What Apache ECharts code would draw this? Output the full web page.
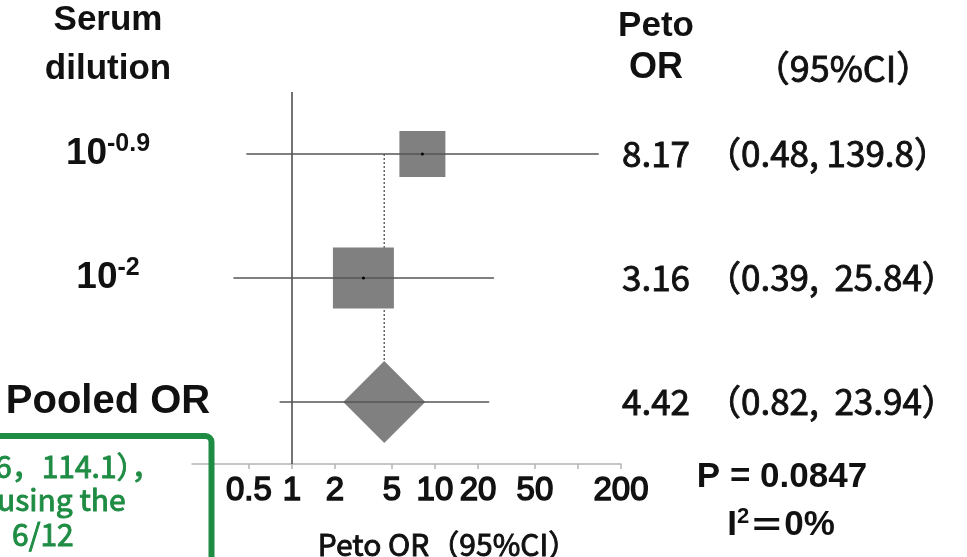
<!DOCTYPE html>
<html><head><meta charset="utf-8">
<script src="https://cdn.jsdelivr.net/npm/echarts@6/dist/echarts.min.js"></script>
<style>html,body{margin:0;padding:0;background:#fff}#c{width:967px;height:557px}</style>
</head><body><div id="c"></div>
<script>
// ---- data ----
const rowLabels = ['{b|10}{sup|-0.9}', '{b|10}{sup|-2}', '{p|Pooled OR}'];
const rowPos = [2.5, 1.5, 0.5];
const orValues = [8.17, 3.16, 4.42];
const ciLow = [0.48, 0.39, 0.82];
const ciHigh = [139.8, 25.84, 23.94];
const orText = ['8.17', '3.16', '4.42'];
const ciText = ['（0.48, 139.8）', '（0.39,  25.84）', '（0.82,  23.94）'];
const tickValues = [0.5, 1, 2, 5, 10, 20, 50, 100, 200];
const labelValues = [0.5, 1, 2, 5, 10, 20, 50, 200];
const labelText = ['0.5', '1', '2', '5', '10', '20', '50', '200'];
const nullEffect = 1;
const pooledIndex = 2;

// ---- styles ----
const markerSize = [46, 61];   // square side, px
const diamondHalf = 41;
const GREY = '#808080';
const JP = "'Noto Sans CJK JP', sans-serif";
const LS = "'Liberation Sans', Arial, sans-serif";
const GREEN = '#1f8c44';
const INK = '#111';

const chart = echarts.init(document.getElementById('c'));

function nearestIdx(arr, v, log) {
  let best = 0, bd = Infinity;
  arr.forEach((t, i) => {
    const d = log ? Math.abs(Math.log10(t) - Math.log10(v)) : Math.abs(t - v);
    if (d < bd) { bd = d; best = i; }
  });
  return best;
}
function medium(font, fill, extra) {
  return Object.assign({ font: font, fill: fill || INK, stroke: fill || INK, lineWidth: 0.9 }, extra || {});
}

const rowData = orValues.map((v, i) => [v, rowPos[i], ciLow[i], ciHigh[i], i]);

const option = {
  animation: false,
  backgroundColor: '#fff',
  grid: { left: 192, right: 346, top: 92, bottom: 93, outerBoundsMode: 'none', containLabel: false },
  xAxis: {
    type: 'log', logBase: 10, min: 0.2, max: 200,
    axisLine: { show: true, lineStyle: { color: '#b4b4b4', width: 1.5 } },
    axisTick: { show: true, length: 5, customValues: tickValues, lineStyle: { color: '#b4b4b4', width: 1.5 } },
    axisLabel: {
      customValues: labelValues, margin: 10, color: INK, fontSize: 33, fontFamily: LS,
      textBorderColor: INK, textBorderWidth: 1.5,
      formatter: v => labelText[nearestIdx(labelValues, v, true)]
    },
    splitLine: { show: false }
  },
  yAxis: {
    type: 'value', min: 0, max: 3,
    axisLine: { show: false }, axisTick: { show: false }, splitLine: { show: false },
    axisLabel: {
      customValues: rowPos, margin: 84, align: 'center', color: INK,
      formatter: v => rowLabels[nearestIdx(rowPos, v, false)],
      rich: {
        b: { fontSize: 37, fontWeight: 'bold', fontFamily: LS, color: INK },
        sup: { fontSize: 25, fontWeight: 'bold', fontFamily: LS, color: INK, padding: [0, 0, 20, 0] },
        p: { fontSize: 40, fontWeight: 'bold', fontFamily: LS, color: INK }
      }
    }
  },
  series: [
    {
      type: 'line', z: 1, data: [], silent: true,
      markLine: {
        symbol: 'none', silent: true, label: { show: false },
        lineStyle: { color: '#444', width: 1.5, type: 'solid' },
        data: [{ xAxis: nullEffect }]
      }
    },
    {
      type: 'line', z: 2, silent: true, showSymbol: false,
      lineStyle: { color: '#666', width: 1.5, type: [2, 2] },
      data: [[orValues[pooledIndex], rowPos[0]], [orValues[pooledIndex], rowPos[pooledIndex]]]
    },
    {
      type: 'custom', z: 5, silent: true,
      encode: { x: [0, 2, 3], y: 1 },
      data: rowData,
      renderItem: function (params, api) {
        const y = api.value(1);
        const c = api.coord([api.value(0), y]);
        const lo = api.coord([api.value(2), y]);
        const hi = api.coord([api.value(3), y]);
        const i = api.value(4);
        const children = [];
        if (i === pooledIndex) {
          const h = diamondHalf;
          children.push({ type: 'polygon', shape: { points: [[c[0] - h, c[1]], [c[0], c[1] - h], [c[0] + h, c[1]], [c[0], c[1] + h]] }, style: { fill: GREY } });
        } else {
          const s = markerSize[i];
          children.push({ type: 'rect', shape: { x: c[0] - s / 2, y: c[1] - s / 2, width: s, height: s }, style: { fill: GREY } });
        }
        children.push({ type: 'line', shape: { x1: lo[0], y1: lo[1], x2: hi[0], y2: hi[1] }, style: { stroke: '#555', lineWidth: 1.5 } });
        if (i !== pooledIndex) {
          children.push({ type: 'circle', shape: { cx: c[0], cy: c[1], r: 1.5 }, style: { fill: '#000' } });
        }
        children.push({ type: 'text', x: 622, y: c[1], style: medium('35px ' + JP, INK, { text: orText[i], textAlign: 'left', textVerticalAlign: 'middle' }) });
        children.push({ type: 'text', x: 706, y: c[1], style: medium('35px ' + JP, INK, { text: ciText[i], textAlign: 'left', textVerticalAlign: 'middle' }) });
        return { type: 'group', children: children };
      }
    }
  ],
  graphic: [
    { type: 'text', x: 108, y: 20, style: { text: 'Serum', font: 'bold 35px ' + LS, fill: INK, textAlign: 'center', textVerticalAlign: 'middle' } },
    { type: 'text', x: 108, y: 69, style: { text: 'dilution', font: 'bold 35px ' + LS, fill: INK, textAlign: 'center', textVerticalAlign: 'middle' } },
    { type: 'text', x: 656, y: 26, style: { text: 'Peto', font: 'bold 35px ' + LS, fill: INK, textAlign: 'center', textVerticalAlign: 'middle' } },
    { type: 'text', x: 656, y: 68, style: { text: 'OR', font: 'bold 36px ' + LS, fill: INK, textAlign: 'center', textVerticalAlign: 'middle' } },
    { type: 'text', x: 843, y: 68, style: medium('36px ' + JP, INK, { text: '（95%CI）', textAlign: 'center', textVerticalAlign: 'middle' }) },
    { type: 'text', x: 448, y: 545, style: medium('30px ' + JP, INK, { text: 'Peto OR（95%CI）', textAlign: 'center', textVerticalAlign: 'middle' }) },
    { type: 'text', x: 782, y: 477, style: { text: 'P = 0.0847', font: 'bold 35px ' + LS, fill: INK, textAlign: 'center', textVerticalAlign: 'middle' } },
    { type: 'text', x: 781, y: 525, style: {
        text: '{b|I}{s|2}{e|＝}{b|0%}', textAlign: 'center', textVerticalAlign: 'middle',
        rich: {
          b: { font: 'bold 35px ' + LS, fill: INK },
          e: { font: 'bold 35px ' + JP, fill: INK },
          s: { font: 'bold 22px ' + LS, fill: INK, padding: [0, 0, 16, 0] }
        } } },
    { type: 'rect', shape: { x: -30, y: 436, width: 241.5, height: 160, r: 6 }, style: { fill: 'none', stroke: GREEN, lineWidth: 6 }, z: 100 },
    { type: 'text', x: -5, y: 467, z: 100, style: medium('30px ' + JP, GREEN, { text: '6，114.1），', textAlign: 'left', textVerticalAlign: 'middle' }) },
    { type: 'text', x: -3, y: 500, z: 100, style: medium('30px ' + JP, GREEN, { text: 'using the', textAlign: 'left', textVerticalAlign: 'middle' }) },
    { type: 'text', x: 12, y: 535, z: 100, style: medium('30px ' + JP, GREEN, { text: '6/12', textAlign: 'left', textVerticalAlign: 'middle' }) }
  ]
};
chart.setOption(option);
</script>
</body></html>
